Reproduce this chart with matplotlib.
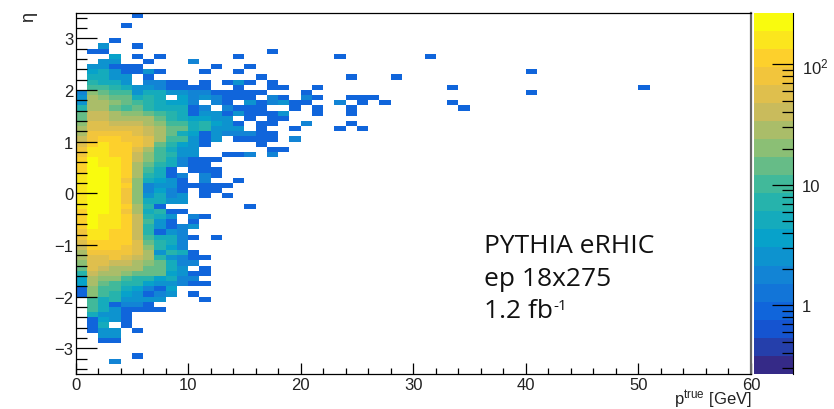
import numpy as np
import matplotlib
matplotlib.use("Agg")
import matplotlib.pyplot as plt
from matplotlib.colors import LinearSegmentedColormap, LogNorm
from matplotlib.ticker import FixedLocator, NullFormatter

W, H = 834, 410
plt.rcParams['font.family'] = ['Liberation Sans', 'DejaVu Sans']
plt.rcParams['mathtext.fontset'] = 'custom'
plt.rcParams['mathtext.rm'] = 'Liberation Sans'
plt.rcParams['mathtext.it'] = 'Liberation Sans'

eta_top = 3.4
core_rows = [
 [0,0,0,0,0,1],                                   # 3.4
 [],                                              # 3.3
 [0,0,0,0,1],                                     # 3.2
 [], [],                                          # 3.1 3.0
 [0,0,0,1],                                       # 2.9
 [0,0,3,0,0,1],                                   # 2.8
 [0,1,1],                                         # 2.7
 [0,0,0,4,0,1,0,1,0,0,0,0,0,0,1],                 # 2.6
 [0,0,3,3,0,0,1,0,0,0,2],                         # 2.5
 [0,3,3,1,1,1,0,0,0,0,0,0,1,0,0,1],               # 2.4
 [0,4,5,3,1,1,3,1,0,0,0,1,0,0,1],                 # 2.3
 [0,5,5,3,3,0,1,0,0,0,0,0,0,0,0,0,1],             # 2.2
 [0,8,6,5,3,0,2,2,1,1,0,1,0,1,3,1],               # 2.1
 [0,12,10,8,5,3,3,2,1,1,1,1,0,0,1],               # 2.0
 [2,18,14,10,10,3,5,5,3,3,2,2,1,1,1,1],           # 1.9
 [3,25,18,14,14,6,8,6,0,4,2,3,2,1,1,1],           # 1.8
 [3,30,25,18,14,10,7,6,4,4,2,0,2,1,0,3,1],        # 1.7
 [8,30,30,14,10,14,7,6,6,5,1,2,0,2,1,1,1],        # 1.6
 [14,35,35,25,20,18,14,10,7,6,1,3,3,1,3,1,1],     # 1.5
 [15,40,40,30,30,25,25,14,8,6,4,4,3,3,0,1,0],     # 1.4
 [18,50,50,40,40,35,30,20,12,10,6,8,4,3,1,0,1],   # 1.3
 [25,60,60,55,55,50,35,25,14,14,5,8,3,3,3,0,1],   # 1.2
 [30,70,80,70,70,55,40,25,14,5,4,1,3,2,2,2,3],    # 1.1
 [35,90,130,100,80,70,60,25,10,10,3,1,3,0,1,1,1], # 1.0
 [50,110,140,110,100,70,60,14,8,4,3,1,0,0,0,0,1], # 0.9
 [70,140,150,120,100,60,25,12,6,3,3],             # 0.8
 [90,190,170,130,100,45,20,12,8,3,3,0,0,1,1,2],   # 0.7
 [100,210,180,140,100,40,18,12,6,2,1,1,1],        # 0.6
 [120,220,180,140,100,30,14,8,5,2,1,1],           # 0.5
 [130,250,200,140,100,25,10,6,1,0,1,1,1],         # 0.4
 [140,250,200,150,100,25,7,6,1,2,0,2,1],          # 0.3
 [150,270,260,150,90,22,5,4,3,1,0,2,0,0,1],       # 0.2
 [160,270,270,150,100,22,2,3,3,1,1,1,1,1],        # 0.1
 [160,270,270,150,80,22,2,4,2,1,0,1,1],           # 0.0
 [160,260,250,150,80,24,3,5,2,3,0,1,0,1],         # -0.1
 [150,270,210,150,90,22,6,5,3,3],                 # -0.2
 [140,250,200,160,100,25,8,1,0,0,0,0,0,0,0,1],    # -0.3
 [130,250,200,160,90,28,6,7,1,1],                 # -0.4
 [120,210,180,160,100,38,8,6,3,0,2,1],            # -0.5
 [110,200,180,140,100,38,10,3,1,0,1],             # -0.6
 [100,200,180,140,120,38,8,3,1,2,3],              # -0.7
 [85,190,150,130,120,45,7,1,3,2],                 # -0.8
 [70,170,140,130,100,45,10,6,5,2,1,0,1],          # -0.9
 [55,120,130,110,100,60,14,8,5,2],                # -1.0
 [40,100,120,100,90,60,18,8,4,2],                 # -1.1
 [30,70,80,80,70,50,30,3,7,5,1],                  # -1.2
 [30,60,60,70,55,40,30,7,3,2,1,1],                # -1.3
 [20,60,50,40,35,30,18,14,5,2,2],                 # -1.4
 [15,60,35,25,30,25,14,14,5,3,0,1],               # -1.5
 [8,40,30,25,20,14,14,14,4,3,1,1],                # -1.6
 [4,30,20,20,10,8,8,4,6,2,2],                     # -1.7
 [4,25,14,10,8,7,4,3,3,2,1,1],                    # -1.8
 [1,20,12,10,6,4,2,1,4],                          # -1.9
 [1,18,10,8,4,3,1,2,3,0,1],                       # -2.0
 [0,12,6,8,3,3,3,3,0,0,0,1],                      # -2.1
 [0,12,6,1,2,2,1],                                # -2.2
 [0,10,5,3,1,1,1,1],                              # -2.3
 [0,6,3,3,1],                                     # -2.4
 [0,1,4,3,1],                                     # -2.5
 [0,1,5,0,1],                                     # -2.6
 [0,1,3,3,0,1],                                   # -2.7
 [0,0,3,3],                                       # -2.8
 [0,0,1,1],                                       # -2.9
 [], [],                                          # -3.0
 [0,0,0,0,0,1],                                   # -3.1
 [0,0,0,2],                                       # -3.2
]

tail_pt = [17,23,31,40,40,50,24,28,33,33,34,21,17,17,18,16,20,21,20,17,18,24,25,26,
           25,27,23,24,24,21,21,19,17,18,19,20,16,16,16,17,18,17,18,16,17,20,24,19,
           23,25,16,16,17,16,17,19,16,17,18,17,16]
tail_eta = [2.7,2.6,2.6,2.3,1.9,2.0,2.2,2.2,2.0,1.7,1.6,2.0,2.1,2.0,2.0,2.2,1.9,1.8,1.8,1.8,1.8,1.8,1.8,1.8,
            1.7,1.7,1.7,1.6,1.5,1.6,1.5,1.6,1.7,1.7,1.7,1.7,1.7,1.6,1.5,1.5,1.5,1.4,1.4,1.3,1.3,1.3,1.3,1.2,
            1.2,1.2,1.2,1.1,1.1,1.0,1.0,1.0,0.9,0.8,0.8,0.7,1.9]
tail_n = [1,1,1,1,1,1,1,1,1,1,1,1,1,1,1,1,1,1,2,2,1,1,1,1,
          1,1,2,1,1,1,1,1,2,3,1,1,1,1,1,1,3,1,1,1,1,2,1,1,
          1,1,1,1,1,1,1,2,1,1,1,2,1]

# ROOT kBird palette, 20 contours
bird_stops = [0, .125, .25, .375, .5, .625, .75, .875, 1]
bird_r = [0.2082, 0.0592, 0.0780, 0.0232, 0.1802, 0.5301, 0.8186, 0.9956, 0.9764]
bird_g = [0.1664, 0.3599, 0.5041, 0.6419, 0.7178, 0.7492, 0.7328, 0.7862, 0.9832]
bird_b = [0.5293, 0.8684, 0.8385, 0.7914, 0.6425, 0.4662, 0.3499, 0.1968, 0.0539]
cmap = LinearSegmentedColormap.from_list(
    'bird', list(zip(bird_stops, zip(bird_r, bird_g, bird_b))), N=20)

nx, ny = 60, 70
counts = np.zeros((ny, nx))
for i, row in enumerate(core_rows):
    j = int(round((eta_top - 0.1 * i + 3.5) * 10))
    for k, v in enumerate(row):
        counts[j, k] = v
for p, e, n in zip(tail_pt, tail_eta, tail_n):
    counts[int(round((e + 3.5) * 10)), p] = n

xedges = np.linspace(0, 60, nx + 1)
yedges = np.linspace(-3.5, 3.5, ny + 1)

fig = plt.figure(figsize=(W / 100, H / 100), dpi=100)
L, R, T, B = 75.5, 751, 13.5, 375
ax = fig.add_axes([L / W, 1 - B / H, (R - L) / W, (B - T) / H])
norm = LogNorm(vmin=0.27, vmax=270)
mesh = ax.pcolormesh(xedges, yedges, np.ma.masked_less(counts, 0.5), cmap=cmap, norm=norm,
                     linewidth=0, antialiased=False, rasterized=True)
ax.set_xlim(0, 60)
ax.set_ylim(-3.5, 3.5)
ax.set_xticks(np.arange(0, 61, 10))
ax.set_xticks(np.arange(0, 61, 2), minor=True)
ax.set_yticks(np.arange(-3, 4))
ax.set_yticks(np.arange(-3.4, 3.5, 0.2), minor=True)
lab = '#222222'
ax.tick_params(axis='x', which='major', direction='in', length=8, width=0.9, pad=2.5, labelsize=12, labelcolor=lab)
ax.tick_params(axis='x', which='minor', direction='in', length=4, width=0.9)
ax.tick_params(axis='y', which='major', direction='in', length=15, width=0.9, pad=1.5, labelsize=12, labelcolor=lab)
ax.tick_params(axis='y', which='minor', direction='in', length=8, width=0.9)
ax.set_yticklabels(['\u22123', '\u22122', '\u22121', '0', '1', '2', '3'])
for s in ax.spines.values():
    s.set_linewidth(0.9)
ax.spines['right'].set_color('#666666')
ax.spines['right'].set_linewidth(1.6)

cax = fig.add_axes([754 / W, 1 - B / H, 39 / W, (B - T) / H])
cb = fig.colorbar(mesh, cax=cax)
cb.outline.set_visible(False)
cax.spines['right'].set_visible(True)
cax.yaxis.set_major_locator(FixedLocator([1, 10, 100]))
cax.yaxis.set_major_formatter(plt.FixedFormatter(['1', '10', '$10^{2}$']))
cax.yaxis.set_minor_locator(FixedLocator(
    [v * d for d in (0.1, 1, 10) for v in range(2, 10) if 0.27 < v * d < 270 and v * d != 100 and v * d != 1 and v * d != 10]))
cax.yaxis.set_minor_formatter(NullFormatter())
cax.tick_params(axis='y', which='major', direction='in', length=15, width=0.9, pad=6.5, labelsize=12, labelcolor=lab, right=True)
cax.tick_params(axis='y', which='minor', direction='in', length=8, width=0.9, right=True)

fig.text(752 / W, 1 - 405 / H, r'p$^{\mathrm{true}}$ [GeV]', ha='right', va='baseline', fontsize=12, color=lab)
fig.text(29 / W, 1 - 17 / H, '\u03b7', rotation=90, ha='center', va='center', fontsize=13, color=lab)

txt = dict(family='Open Sans', fontsize=19, color='#111111', ha='left', va='baseline')
fig.text(484 / W, 1 - 253.5 / H, 'PYTHIA eRHIC', **txt)
fig.text(484 / W, 1 - 286.5 / H, 'ep 18x275', **txt)
fig.text(484 / W, 1 - 317.5 / H, '1.2 fb', **txt)
fig.text(553 / W, 1 - 310 / H, '-1', family='Open Sans', fontsize=11, color='#111111', ha='left', va='baseline')

fig.savefig('out.png', dpi=100)
